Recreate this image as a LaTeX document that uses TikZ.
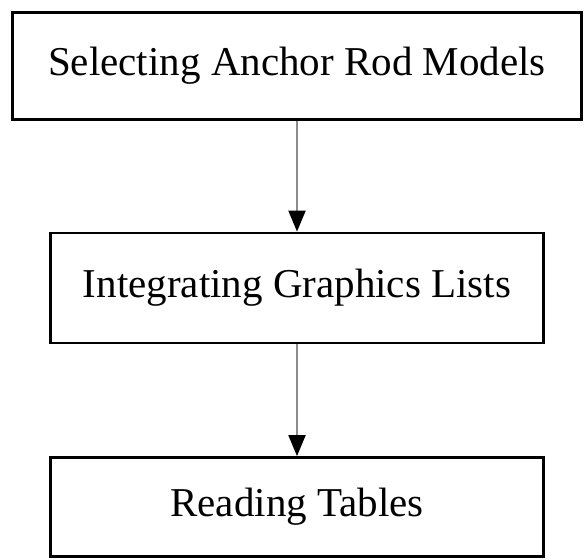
\documentclass[tikz,border=0pt]{standalone}
\usepackage{fontspec}
\setmainfont{Liberation Serif}
\usetikzlibrary{arrows.meta}
\begin{document}
\begin{tikzpicture}[x=1pt,y=-1pt,
  stepbox/.style={draw=black,line width=2.8pt,fill=white,inner sep=0pt,
    font=\fontsize{41}{48}\selectfont},
  flow/.style={draw=black!45,line width=2pt,
    -{Triangle[color=black,length=21pt,width=17pt]}}]
\useasboundingbox[fill=white] (0,0) rectangle (585,559);
\node[stepbox,minimum width=569pt,minimum height=107pt] (s1) at (297,66) {Selecting Anchor Rod Models};
\node[stepbox,minimum width=493pt,minimum height=110pt] (s2) at (297,288) {Integrating Graphics Lists};
\node[stepbox,minimum width=493pt,minimum height=99pt] (s3) at (297,507) {Reading Tables};
\draw[flow] (s1.south) -- (s2.north);
\draw[flow] (s2.south) -- (s3.north);
\end{tikzpicture}
\end{document}
